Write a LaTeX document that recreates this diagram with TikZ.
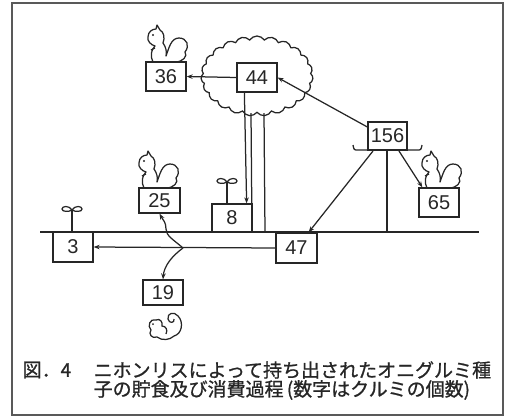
\documentclass[tikz,border=0pt]{standalone}
\usepackage{fontspec}
\setmainfont{Liberation Sans}
\newfontfamily\jpfont[FakeBold=1]{Noto Sans CJK JP}
\usetikzlibrary{arrows.meta,shapes.symbols,calc}

\tikzset{
  squirrel/.pic={
    \draw[line join=round] (6,0) .. controls (3,-6) and (4,-12) .. (8,-16)
      .. controls (4,-17) and (0,-21) .. (1,-25)
      .. controls (1,-30) and (5,-33) .. (9,-33)
      -- (10,-37) -- (13,-32)
      .. controls (17,-30) and (18,-24) .. (16,-19)
      .. controls (19,-15) and (20,-10) .. (19,-6)
      .. controls (22,-14) and (24,-24) .. (32,-24)
      .. controls (40,-24) and (43,-16) .. (38,-10)
      .. controls (41,-6) and (36,0) .. (28,0)
      -- cycle;
    \fill (6,-27) circle (1.2pt);
    \draw (8,-14) -- (4,-12);
  },
  sprout/.pic={
    \draw (0,0) -- (0,-22);
    \draw (0,-22) .. controls (-3,-27) and (-10,-26) .. (-10,-23)
      .. controls (-10,-20) and (-3,-20) .. (0,-22);
    \draw (0,-22) .. controls (3,-27) and (10,-26) .. (10,-23)
      .. controls (10,-20) and (3,-20) .. (0,-22);
  }
}

\begin{document}
\begin{tikzpicture}[x=1pt,y=-1pt,line width=1.25pt,color=black!85,
  box/.style={draw, inner sep=0pt, minimum width=40pt, minimum height=29pt,
    font=\fontsize{20}{20}\selectfont},
  arr/.style={-{Stealth[length=6pt,width=4.5pt]}},
  caption/.style={anchor=west, inner sep=0pt, font=\jpfont\fontsize{19}{19}\selectfont}]
\useasboundingbox (0,0) rectangle (509,416);
\draw[gray!70!black, line width=1.5pt] (12,3) rectangle (503,415);

% tree crown and trunk
\node[cloud, draw, cloud puffs=23, cloud puff arc=115, minimum width=112pt,
  minimum height=80pt, inner sep=0pt] (crown) at (257,76) {};
\draw (251,113) -- (252,232);
\draw (264,113) -- (265,232);

% ground
\coordinate (gl) at (40,232);
\coordinate (gr) at (479,232);
\draw (gl) -- (gr);

% counts
\node[box] (n44) at (257,77.5) {44};
\node[box] (n36) at (166,76.5) {36};
\node[box, minimum width=39pt, minimum height=28pt] (n156) at (387.5,136) {156};
\node[box] (n65) at (439,202.5) {65};
\node[box, minimum width=41pt, minimum height=25pt] (n25) at (159.5,200.5) {25};
\node[box, minimum height=28pt] (n8) at (232,218) {8};
\node[box, minimum height=30pt] (n3) at (73,247) {3};
\node[box, minimum width=41pt, minimum height=30pt] (n47) at (296.5,248) {47};
\node[box, minimum height=25pt] (n19) at (163,292.5) {19};

% squirrels and sprouts
\pic at (147,62) {squirrel};
\pic at (138,188) {squirrel};
\pic at (421,188) {squirrel};
\pic at (72,232) {sprout};
\pic at (227,204) {sprout};

% squirrel eating below 19
\draw[line join=round] (156,320) .. controls (150,318) and (147,326) .. (151,330)
  .. controls (148,334) and (152,339) .. (157,337)
  .. controls (162,341) and (170,340) .. (174,336)
  .. controls (182,334) and (184,322) .. (178,316)
  .. controls (174,311) and (167,313) .. (168,319)
  .. controls (169,324) and (175,323) .. (174,319);
\draw (156,320) .. controls (160,318) and (163,322) .. (162,326)
  .. controls (166,326) and (168,330) .. (166,334);
\fill (153,324) circle (1pt);

% bracket under 156
\coordinate (bl) at (353,145);
\coordinate (br) at (422,145);
\draw (bl) .. controls (354,150) .. (358,150) -- (417,150) .. controls (421,150) .. (br);
\coordinate (b47) at (373,151);
\coordinate (b65) at (399,151);
\coordinate (bmid) at (387,150);

% flows
\draw[arr] (n44.west) -- (n36.east);
\draw[arr] ($(n156.west)+(0,-9)$) -- (n44.east);
\draw[arr] ($(n44.south west)+(8,0)$) -- ($(n8.north east)+(-6,0)$);
\draw[arr] (b47) -- ($(n47.north east)+(-9,0)$);
\draw[arr] (b65) -- ($(n65.north west)+(4,0)$);
\draw (bmid) -- (387,232);
\draw[arr] (n47.west) -- (n3.east);
\coordinate (fork) at (183,248);
\draw[arr] (fork) .. controls (174,240) and (166,236) .. (166,229)
  .. controls (166,222) and (163,220) .. (n25.south);
\draw[arr] (fork) .. controls (172,256) and (164,266) .. (n19.north);

% caption
\node[caption] (fig) at (22,370) {図．4};
\node[caption] (cap1) at (93,370) {ニホンリスによって持ち出されたオニグルミ種};
\node[caption] (cap2) at (93,390) {子の貯食及び消費過程\,(数字はクルミの個数)};
\end{tikzpicture}
\end{document}
